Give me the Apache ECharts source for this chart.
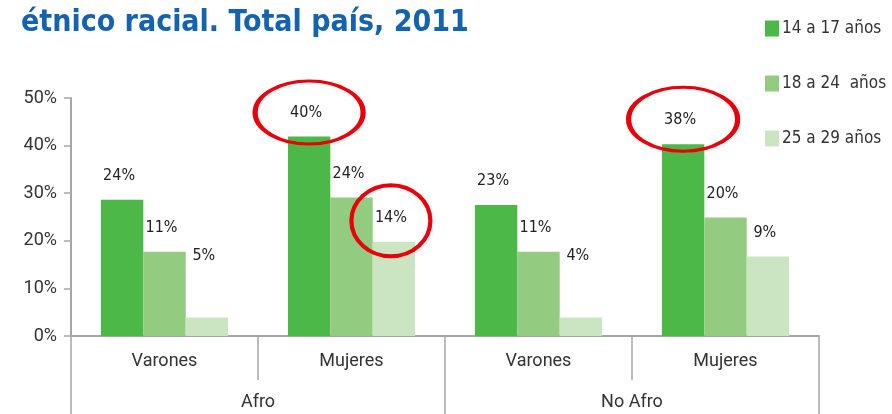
<!DOCTYPE html>
<html>
<head>
<meta charset="utf-8">
<script src="https://cdn.jsdelivr.net/npm/echarts@6/dist/echarts.min.js"></script>
<style>
  html, body { margin: 0; padding: 0; background: #fff; }
  #chart { width: 892px; height: 414px; }
</style>
</head>
<body>
<div id="chart"></div>
<script>
// categories
const subCategories = ['Varones', 'Mujeres', 'Varones', 'Mujeres'];
const groupCategories = ['Afro', 'No Afro'];
const seriesNames = ['14 a 17 años', '18 a 24  años', '25 a 29 años'];

// bar heights as drawn in the picture (%)
const edad14a17 = [28.6, 41.9, 27.5, 40.3];
const edad18a24 = [17.7, 29.1, 17.7, 24.9];
const edad25a29 = [3.9, 19.8, 3.9, 16.7];

// printed labels above bars
const labels14a17 = ['24%', '40%', '23%', '38%'];
const labels18a24 = ['11%', '24%', '11%', '20%'];
const labels25a29 = ['5%', '14%', '4%', '9%'];

const yTicks = [0, 10, 20, 30, 40, 50];

const colors = ['#4cb848', '#93cb80', '#cbe5c2'];
const narrow = '"Liberation Sans Narrow", "DejaVu Sans Condensed", "Roboto", sans-serif';
const regular = '"Liberation Sans Narrow", "Roboto", sans-serif';

// labels that sit higher than the rest in the original
const liftedLabels = { 2: [0, 2] };

function makeSeries(i, values, texts, extra) {
  return Object.assign({
    name: seriesNames[i],
    type: 'bar',
    barGap: '0%',
    barCategoryGap: '32%',
    itemStyle: { color: colors[i] },
    data: values.map(function (v, k) {
      const item = { value: v };
      if (liftedLabels[i] && liftedLabels[i].indexOf(k) >= 0) {
        item.label = { distance: 54 };
      }
      return item;
    }),
    label: {
      show: true,
      position: 'top',
      distance: 16,
      offset: [-3, 0],
      fontFamily: narrow,
      fontSize: 16,
      color: '#222',
      formatter: function (p) { return texts[p.dataIndex]; }
    }
  }, extra || {});
}

const ellipseStyle = {
  symbol: 'circle',
  silent: true,
  label: { show: false },
  itemStyle: { color: 'rgba(0,0,0,0)', borderColor: '#e8000b', borderWidth: 4 }
};

const chart = echarts.init(document.getElementById('chart'));
chart.setOption({
  animation: false,
  title: {
    text: 'étnico racial. Total país, 2011',
    left: 21,
    top: 8,
    padding: 0,
    textStyle: { fontFamily: narrow, fontWeight: 'bold', fontSize: 30, color: '#1463b0' }
  },
  legend: {
    orient: 'vertical',
    left: 765,
    top: 20,
    itemWidth: 14,
    itemHeight: 16,
    itemGap: 38,
    padding: 0,
    icon: 'rect',
    data: seriesNames,
    textStyle: { fontFamily: narrow, fontSize: 17, color: '#333', padding: [0, 0, 0, -2] }
  },
  grid: { left: 71, right: 73, top: 98, bottom: 78 },
  xAxis: [
    {
      type: 'category',
      data: subCategories,
      position: 'bottom',
      axisLine: { lineStyle: { color: '#a6a6a6', width: 2 } },
      axisTick: { show: true, interval: 0, length: 44, lineStyle: { color: '#a6a6a6', width: 1.5 } },
      axisLabel: { interval: 0, margin: 16, fontFamily: regular, fontSize: 18, color: '#333' }
    },
    {
      type: 'category',
      data: groupCategories,
      position: 'bottom',
      axisLine: { show: false },
      axisTick: { show: true, interval: 0, length: 78, lineStyle: { color: '#a6a6a6', width: 1.5 } },
      axisLabel: { interval: 0, margin: 57, fontFamily: regular, fontSize: 18, color: '#333' }
    }
  ],
  yAxis: {
    type: 'value',
    min: yTicks[0],
    max: yTicks[yTicks.length - 1],
    interval: 10,
    splitLine: { show: false },
    axisLine: { show: true, lineStyle: { color: '#a6a6a6', width: 2 } },
    axisTick: { show: true, length: 7, lineStyle: { color: '#a6a6a6', width: 1.5 } },
    axisLabel: { margin: 14, fontFamily: regular, fontSize: 18, color: '#333', formatter: '{value}%' }
  },
  series: [
    makeSeries(0, edad14a17, labels14a17, {
      markPoint: Object.assign({
        data: [
          { coord: [1, edad14a17[1]], symbolSize: [108, 63], symbolOffset: [0, -24] },
          { coord: [3, edad14a17[3]], symbolSize: [109, 64], symbolOffset: [0, -25] }
        ]
      }, ellipseStyle)
    }),
    makeSeries(1, edad18a24, labels18a24),
    makeSeries(2, edad25a29, labels25a29, {
      markPoint: Object.assign({
        data: [
          { coord: [1, edad25a29[1]], symbolSize: [79, 71], symbolOffset: [-3, -21] }
        ]
      }, ellipseStyle)
    })
  ]
});
</script>
</body>
</html>
